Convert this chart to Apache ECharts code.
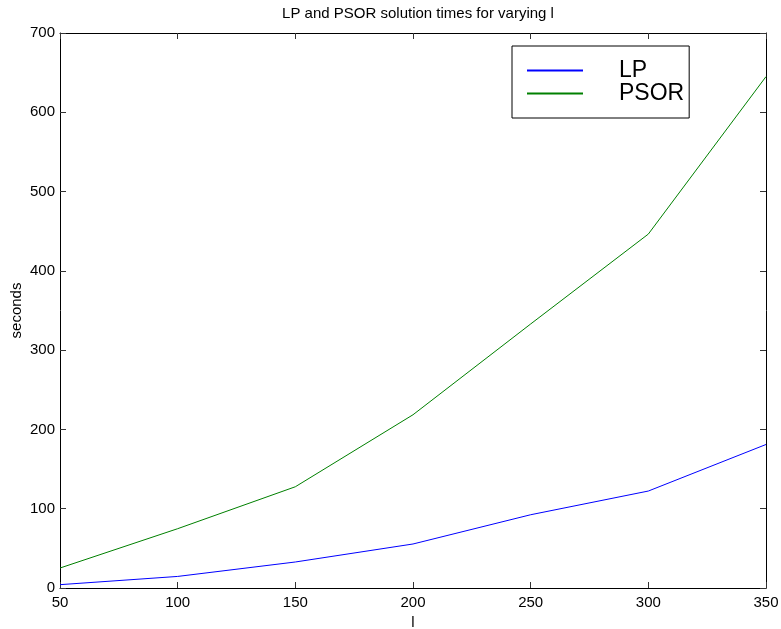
<!DOCTYPE html>
<html>
<head>
<meta charset="utf-8">
<script src="https://cdn.jsdelivr.net/npm/echarts@6/dist/echarts.min.js"></script>
<style>
  html, body { margin: 0; padding: 0; background: #fff; }
  #chart { width: 781px; height: 629px; }
</style>
</head>
<body>
<div id="chart"></div>
<script>
// Problem sizes l and solve times (seconds) for each method
const sizes = [50, 100, 150, 200, 250, 300, 350];
const lpTimes = [4.2, 14.6, 32.8, 55.5, 92.4, 122.3, 181];
const psorTimes = [25.2, 74.8, 127.7, 218.5, 333, 446.4, 645];
const seriesNames = ['LP', 'PSOR'];

const FONT = 'Liberation Sans, Arial, Helvetica, sans-serif';
const pair = (xs, ys) => xs.map((x, i) => [x, ys[i]]);

const chart = echarts.init(document.getElementById('chart'));

const baseX = {
  type: 'value', min: 50, max: 350, interval: 50,
  axisLine: { show: true, onZero: false, lineStyle: { color: '#000', width: 1 } },
  axisTick: { show: true, inside: true, length: 6, lineStyle: { color: '#333' } },
  splitLine: { show: false }
};
const baseY = {
  type: 'value', min: 0, max: 700, interval: 100,
  axisLine: { show: true, onZero: false, lineStyle: { color: '#000', width: 1 } },
  axisTick: { show: true, inside: true, length: 6, lineStyle: { color: '#333' } },
  splitLine: { show: false }
};

chart.setOption({
  animation: false,
  backgroundColor: '#fff',
  title: {
    text: 'LP and PSOR solution times for varying l',
    left: 413, top: 1, textAlign: 'center',
    textStyle: { fontFamily: FONT, fontSize: 15, fontWeight: 'normal', color: '#000' }
  },
  grid: { left: 60, top: 33, right: 15, bottom: 41, containLabel: false, outerBoundsMode: 'none' },
  legend: {
    orient: 'vertical',
    left: 512, top: 46,
    padding: [13, 5, 13, 14],
    borderColor: '#000', borderWidth: 1,
    backgroundColor: '#fff',
    itemWidth: 56, itemHeight: 14, itemGap: 0,
    itemStyle: { opacity: 0 },
    data: seriesNames,
    textStyle: { fontFamily: FONT, fontSize: 23, color: '#000', lineHeight: 23, padding: [0, 0, 0, 31] }
  },
  xAxis: [
    Object.assign({}, baseX, {
      position: 'bottom',
      name: 'l', nameLocation: 'middle', nameGap: 27, nameMoveOverlap: false,
      nameTextStyle: { fontFamily: FONT, fontSize: 15, color: '#000' },
      axisLabel: { fontFamily: FONT, fontSize: 15, color: '#000', margin: 7 }
    }),
    Object.assign({}, baseX, { position: 'top', axisLabel: { show: false } })
  ],
  yAxis: [
    Object.assign({}, baseY, {
      position: 'left',
      name: 'seconds', nameLocation: 'middle', nameGap: 36, nameMoveOverlap: false,
      nameTextStyle: { fontFamily: FONT, fontSize: 15, color: '#000' },
      axisLabel: { fontFamily: FONT, fontSize: 15, color: '#000', margin: 5 }
    }),
    Object.assign({}, baseY, { position: 'right', axisLabel: { show: false } })
  ],
  series: [
    {
      name: seriesNames[0], type: 'line', symbol: 'none',
      xAxisIndex: 0, yAxisIndex: 0,
      data: pair(sizes, lpTimes),
      lineStyle: { color: '#0000ff', width: 1 }, itemStyle: { color: '#0000ff' }
    },
    {
      name: seriesNames[1], type: 'line', symbol: 'none',
      xAxisIndex: 0, yAxisIndex: 0,
      data: pair(sizes, psorTimes),
      lineStyle: { color: '#008000', width: 1 }, itemStyle: { color: '#008000' }
    }
  ]
});
</script>
</body>
</html>
